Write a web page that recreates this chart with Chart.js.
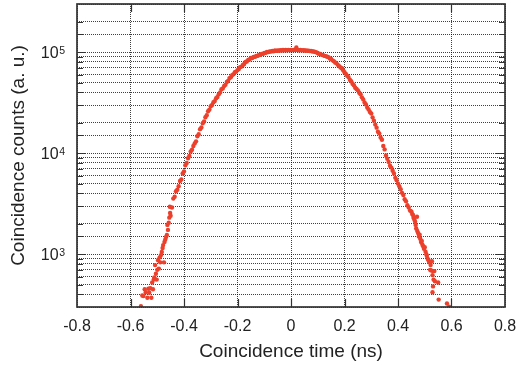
<!DOCTYPE html>
<html><head><meta charset="utf-8">
<script src="https://cdn.jsdelivr.net/npm/chart.js@4/dist/chart.umd.min.js"></script>
<style>html,body{margin:0;padding:0;background:#fff;}</style>
</head><body>
<canvas id="c" width="516" height="372"></canvas>
<script>
const xTicks = [-0.8, -0.6, -0.4, -0.2, 0, 0.2, 0.4, 0.6, 0.8];
const yTickExponents = [3, 4, 5];
const xTitle = 'Coincidence time (ns)';
const yTitle = 'Coincidence counts (a. u.)';

const leftTailTime = [-0.561,-0.556,-0.552,-0.547,-0.543,-0.537,-0.533,-0.530,-0.526,-0.522,-0.519,-0.516,-0.513,-0.511,-0.508,-0.505,-0.502,-0.500,-0.497,-0.494,-0.491,-0.489,-0.486,-0.483,-0.480,-0.478,-0.475,-0.473,-0.470,-0.467,-0.464,-0.462,-0.460,-0.457,-0.455,-0.453,-0.452];
const leftTailCounts = [305,390,385,450,420,370,455,415,460,370,525,450,560,590,780,640,560,700,870,720,930,830,980,1050,1150,1230,830,1320,1400,1480,1550,1950,1740,2050,2300,2950,2560];

const coreTime = [-0.450,-0.445,-0.440,-0.435,-0.430,-0.425,-0.420,-0.415,-0.410,-0.405,-0.400,-0.395,-0.390,-0.385,-0.380,-0.375,-0.370,-0.365,-0.360,-0.355,-0.350,-0.345,-0.340,-0.335,-0.330,-0.325,-0.320,-0.315,-0.310,-0.305,-0.300,-0.295,-0.290,-0.285,-0.280,-0.275,-0.270,-0.265,-0.260,-0.255,-0.250,-0.245,-0.240,-0.235,-0.230,-0.225,-0.220,-0.215,-0.210,-0.205,-0.200,-0.195,-0.190,-0.185,-0.180,-0.175,-0.170,-0.165,-0.160,-0.155,-0.150,-0.145,-0.140,-0.135,-0.130,-0.125,-0.120,-0.115,-0.110,-0.105,-0.100,-0.095,-0.090,-0.085,-0.080,-0.075,-0.070,-0.065,-0.060,-0.055,-0.050,-0.045,-0.040,-0.035,-0.030,-0.025,-0.020,-0.015,-0.010,-0.005,0.000,0.005,0.010,0.015,0.020,0.025,0.030,0.035,0.040,0.045,0.050,0.055,0.060,0.065,0.070,0.075,0.080,0.085,0.090,0.095,0.100,0.105,0.110,0.115,0.120,0.125,0.130,0.135,0.140,0.145,0.150,0.155,0.160,0.165,0.170,0.175,0.180,0.185,0.190,0.195,0.200,0.205,0.210,0.215,0.220,0.225,0.230,0.235,0.240,0.245,0.250,0.255,0.260,0.265,0.270,0.275,0.280,0.285,0.290,0.295,0.300,0.305,0.310,0.315,0.320,0.325,0.330,0.335,0.340,0.345,0.350,0.355,0.360,0.365,0.370,0.375,0.380,0.385,0.390,0.395,0.400,0.405,0.410,0.415,0.420,0.425,0.430,0.435,0.440,0.445,0.450];
const coreCounts = [2400,2900,3550,3700,4200,4350,4700,5300,5500,6300,6600,7600,8000,8900,9400,10400,10800,11800,12500,13100,14700,15400,17300,18000,19800,20600,22700,23800,26000,27000,29200,30000,31900,32800,35000,36000,38400,40000,43000,43800,46200,47500,50600,52000,55400,56500,59300,60500,63500,64200,66500,68000,71200,72000,74600,76300,79900,80800,83700,84600,87600,87700,89600,89800,91700,91900,93800,94000,96000,96200,98200,98400,100500,100200,101700,101300,102900,102300,103800,103000,104300,103500,104800,104000,105200,104300,105000,104500,105300,104600,105100,104800,105500,104900,111500,105200,104600,105000,104300,104700,103900,104200,103400,103700,102600,102900,101600,101900,100300,99600,98200,96200,95800,94100,93600,91900,91500,90000,89400,86800,85500,83000,81600,79000,77900,74900,72800,70500,69500,66400,63400,61000,58400,56700,53300,51600,48700,47000,44400,43200,41900,39600,38300,35700,34100,31800,30400,28400,27100,25600,24700,22600,21000,19200,17900,16300,15700,14300,13600,11800,10900,9500,8800,8200,7500,7200,6700,6300,5700,5400,5000,4700,4400,4050,3850,3500,3350,3050,2900,2700,2650];

const rightTailTime = [0.453,0.456,0.458,0.461,0.464,0.466,0.468,0.471,0.472,0.475,0.478,0.481,0.483,0.486,0.489,0.491,0.494,0.497,0.500,0.503,0.506,0.508,0.511,0.514,0.517,0.520,0.522,0.524,0.527,0.529,0.531,0.533,0.536,0.538,0.531,0.529,0.550,0.552,0.583,0.591];
const rightTailCounts = [2500,2450,2300,2200,2100,1950,1800,2350,1700,1620,1500,1560,1420,1320,1350,1250,1200,1130,1170,1060,1000,960,900,870,830,700,780,690,850,620,680,560,680,540,480,420,525,355,325,302];

const allTime = leftTailTime.concat(coreTime, rightTailTime);
const allCounts = leftTailCounts.concat(coreCounts, rightTailCounts);
const pts = allTime.map((t, i) => ({x: t, y: allCounts[i]}));

const FONT = "'Liberation Sans', Arial, Helvetica, sans-serif";
const TXT = '#222';
const GRID = 'rgba(0,0,0,0.75)';

const framePlugin = {
  id: 'frame',
  afterDraw(chart) {
    const {ctx, chartArea: a} = chart;
    const xs = chart.scales.x, ys = chart.scales.y;
    ctx.save();
    ctx.strokeStyle = '#333';
    ctx.lineWidth = 1.2;
    ctx.setLineDash([]);
    ctx.beginPath();
    xTicks.forEach(v => {
      const px = Math.round(xs.getPixelForValue(v)) + 0.5;
      if (px <= a.left + 2 || px >= a.right - 2) return;
      ctx.moveTo(px, a.bottom); ctx.lineTo(px, a.bottom - 8);
      ctx.moveTo(px, a.top); ctx.lineTo(px, a.top + 8);
    });
    ys.ticks.forEach(t => {
      const py = Math.round(ys.getPixelForValue(t.value)) + 0.5;
      if (py <= a.top + 2 || py >= a.bottom - 2) return;
      const e = Math.log10(t.value);
      const len = Math.abs(e - Math.round(e)) < 1e-9 ? 9 : 6;
      ctx.moveTo(a.left, py); ctx.lineTo(a.left + len, py);
      ctx.moveTo(a.right, py); ctx.lineTo(a.right - len, py);
    });
    ctx.stroke();
    ctx.lineWidth = 1.7;
    ctx.strokeRect(a.left, a.top, a.right - a.left, a.bottom - a.top);
    ctx.fillStyle = TXT;
    ctx.textAlign = 'left';
    ctx.textBaseline = 'alphabetic';
    yTickExponents.forEach(e => {
      const py = ys.getPixelForValue(Math.pow(10, e));
      ctx.font = '16px ' + FONT;
      const w1 = ctx.measureText('10').width;
      ctx.font = '10.5px ' + FONT;
      const w2 = ctx.measureText(String(e)).width;
      const right = a.left - 12;
      ctx.font = '16px ' + FONT;
      ctx.fillText('10', right - w2 - w1 - 0.5, py + 5.7);
      ctx.font = '10.5px ' + FONT;
      ctx.fillText(String(e), right - w2, py + 1.8);
    });
    ctx.restore();
  }
};

new Chart(document.getElementById('c'), {
  type: 'scatter',
  data: {
    datasets: [{
      data: pts,
      backgroundColor: 'rgb(236,64,44)',
      borderWidth: 0,
      pointRadius: 2.2,
      pointHoverRadius: 2.2,
      clip: 0
    }]
  },
  options: {
    responsive: false,
    animation: false,
    devicePixelRatio: 1,
    layout: {padding: {left: 0, right: 11, top: 4, bottom: 0}},
    plugins: {legend: {display: false}, tooltip: {enabled: false}},
    scales: {
      x: {
        type: 'linear', min: -0.8, max: 0.8,
        afterBuildTicks: s => { s.ticks = xTicks.map(v => ({value: v})); },
        afterFit: s => { s.height = 65; s.paddingLeft = 0; s.paddingRight = 0; },
        ticks: {
          autoSkip: false, maxRotation: 0, padding: 10, color: TXT,
          font: {family: FONT, size: 16},
          callback: v => (Math.abs(v) < 1e-9 ? '0' : String(Math.round(v * 10) / 10))
        },
        grid: {color: GRID, lineWidth: 1, drawTicks: false},
        border: {display: false, dash: [1, 1]},
        title: {display: true, text: xTitle, color: TXT, font: {family: FONT, size: 19}, padding: {top: 0, bottom: 9}}
      },
      y: {
        type: 'logarithmic', min: 300, max: 300000,
        afterFit: s => { s.width = 77; s.paddingTop = 0; s.paddingBottom = 0; },
        ticks: {display: false, autoSkip: false},
        grid: {color: GRID, lineWidth: 1, drawTicks: false},
        border: {display: false, dash: [1, 1]},
        title: {display: true, text: yTitle, color: TXT, font: {family: FONT, size: 19}, padding: {top: 7, bottom: 0}}
      }
    }
  },
  plugins: [framePlugin]
});
</script>
</body></html>
